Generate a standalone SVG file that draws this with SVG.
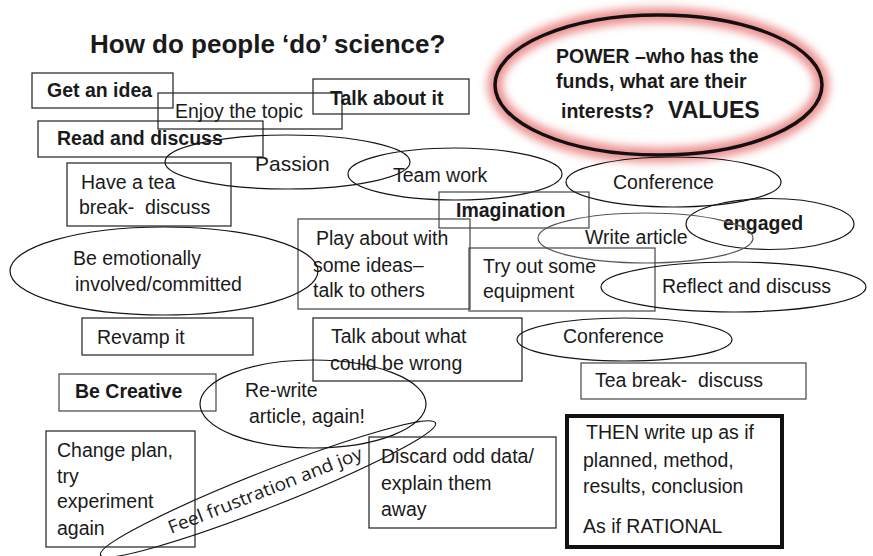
<svg xmlns="http://www.w3.org/2000/svg" width="873" height="556" viewBox="0 0 873 556">
  <style>
    .bg { fill: #ffffff; }
    .box { fill: none; stroke: #1e1e1e; stroke-width: 1.2; }
    .box-grey { fill: none; stroke: #444444; stroke-width: 1.2; }
    .oval { fill: none; stroke: #141414; stroke-width: 1.2; }
    .oval-grey { fill: none; stroke: #555555; stroke-width: 1.2; }
    .heavy { fill: none; stroke: #111111; stroke-width: 4; }
    text { font-family: "Liberation Sans", Arial, sans-serif; fill: #1a1a1a; }
    .t { font-size: 19.5px; }
    .b { font-size: 19.5px; font-weight: bold; }
    .title { font-size: 26px; font-weight: bold; }
    .hand { font-family: "Open Sans", "Noto Sans", sans-serif; font-size: 18px; }
  </style>
  <defs>
    <filter id="glow" x="-20%" y="-40%" width="140%" height="180%">
      <feGaussianBlur stdDeviation="4"/>
    </filter>
  </defs>

  <rect class="bg" x="0" y="0" width="873" height="556"/>

  <text class="title" x="90" y="53">How do people ‘do’ science?</text>

  <!-- highlighted oval, top right -->
  <g id="power">
    <ellipse cx="658.5" cy="85" rx="163.5" ry="70" fill="none" stroke="#ec8f8f" stroke-width="15" filter="url(#glow)"/>
    <ellipse cx="658.5" cy="85" rx="163.5" ry="70" fill="none" stroke="#111111" stroke-width="3.5"/>
    <text class="b" x="556" y="63">POWER –who has the</text>
    <text class="b" x="556" y="88">funds, what are their</text>
    <text class="b" x="561" y="118">interests?</text>
    <text x="668" y="118" font-size="23" font-weight="bold">VALUES</text>
  </g>

  <g id="get-idea">
    <rect class="box" x="32" y="73" width="141" height="35"/>
    <text class="b" x="47" y="97">Get an idea</text>
  </g>

  <g id="enjoy-topic">
    <rect class="box" x="158" y="93" width="184" height="36"/>
    <text class="t" x="175" y="118">Enjoy the topic</text>
  </g>

  <g id="talk-about-it">
    <rect class="box" x="313" y="79" width="156" height="35"/>
    <text class="b" x="330" y="105">Talk about it</text>
  </g>

  <g id="read-discuss">
    <rect class="box" x="38" y="121" width="225" height="36"/>
    <text class="b" x="57" y="145">Read and discuss</text>
  </g>

  <g id="passion">
    <ellipse class="oval" cx="287.5" cy="162" rx="122.5" ry="27"/>
    <text x="255" y="171" font-size="21">Passion</text>
  </g>

  <g id="tea-break-1">
    <rect class="box" x="67" y="163" width="164" height="63"/>
    <text class="t" x="81" y="189">Have a tea</text>
    <text class="t" x="79" y="214">break-&#160; discuss</text>
  </g>

  <g id="team-work">
    <ellipse class="oval" cx="455" cy="174" rx="107" ry="26"/>
    <text class="t" x="393" y="182">Team work</text>
  </g>

  <g id="imagination">
    <rect class="box-grey" x="439" y="192" width="150" height="36"/>
    <text class="b" x="456" y="217">Imagination</text>
  </g>

  <g id="conference-1">
    <ellipse class="oval" cx="673.5" cy="182" rx="107.5" ry="25"/>
    <text class="t" x="613" y="189">Conference</text>
  </g>

  <g id="engaged">
    <ellipse class="oval" cx="770" cy="224" rx="84" ry="25.5"/>
    <text class="b" x="723" y="230">engaged</text>
  </g>

  <g id="write-article">
    <ellipse class="oval-grey" cx="645.5" cy="238" rx="107.5" ry="25"/>
    <text class="t" x="585" y="244">Write article</text>
  </g>

  <g id="play-about">
    <rect class="box-grey" x="298" y="219" width="172" height="90"/>
    <text class="t" x="316" y="245">Play about with</text>
    <text class="t" x="313" y="272">some ideas–</text>
    <text class="t" x="313" y="297">talk to others</text>
  </g>

  <g id="try-equipment">
    <rect class="box-grey" x="469" y="248" width="186" height="63"/>
    <text class="t" x="483" y="273">Try out some</text>
    <text class="t" x="483" y="298">equipment</text>
  </g>

  <g id="reflect-discuss">
    <ellipse class="oval" cx="733.5" cy="287" rx="132.5" ry="25"/>
    <text class="t" x="662" y="293">Reflect and discuss</text>
  </g>

  <g id="emotionally-involved">
    <ellipse class="oval" cx="164" cy="271" rx="154" ry="44"/>
    <text class="t" x="73" y="265">Be emotionally</text>
    <text class="t" x="75" y="291">involved/committed</text>
  </g>

  <g id="revamp">
    <rect class="box" x="82" y="318" width="171" height="37"/>
    <text class="t" x="97" y="344">Revamp it</text>
  </g>

  <g id="what-could-be-wrong">
    <rect class="box" x="313" y="318" width="209" height="63"/>
    <text class="t" x="331" y="343">Talk about what</text>
    <text class="t" x="330" y="370">could be wrong</text>
  </g>

  <g id="conference-2">
    <ellipse class="oval" cx="624.5" cy="339.5" rx="107.5" ry="21.5"/>
    <text class="t" x="563" y="343">Conference</text>
  </g>

  <g id="tea-break-2">
    <rect class="box-grey" x="581" y="363" width="225" height="36"/>
    <text class="t" x="595" y="387">Tea break-&#160; discuss</text>
  </g>

  <g id="be-creative">
    <rect class="box-grey" x="59" y="374" width="157" height="37"/>
    <text class="b" x="75" y="398">Be Creative</text>
  </g>

  <g id="rewrite">
    <ellipse class="oval" cx="313" cy="404" rx="113" ry="44"/>
    <text class="t" x="245" y="397">Re-write</text>
    <text class="t" x="249" y="423">article, again!</text>
  </g>

  <g id="change-plan">
    <rect class="box" x="46" y="431" width="149" height="116"/>
    <text class="t" x="57" y="457">Change plan,</text>
    <text class="t" x="57" y="483">try</text>
    <text class="t" x="57" y="508">experiment</text>
    <text class="t" x="57" y="535">again</text>
  </g>

  <g id="frustration-joy">
    <ellipse class="oval" cx="268" cy="489" rx="180" ry="18" transform="rotate(-21.5 268 489)"/>
    <text class="hand" transform="translate(171 534) rotate(-21.5)" textLength="207" lengthAdjust="spacingAndGlyphs">Feel frustration and joy</text>
  </g>

  <g id="discard-data">
    <rect class="box" x="369" y="437" width="187" height="91"/>
    <text class="t" x="381" y="463">Discard odd data/</text>
    <text class="t" x="381" y="490">explain them</text>
    <text class="t" x="381" y="516">away</text>
  </g>

  <g id="write-up">
    <rect class="heavy" x="567" y="416" width="215" height="131"/>
    <text class="t" x="586" y="439">THEN write up as if</text>
    <text class="t" x="583" y="467">planned, method,</text>
    <text class="t" x="583" y="493">results, conclusion</text>
    <text class="t" x="583" y="533">As if RATIONAL</text>
  </g>

  <g id="connectors"/>
</svg>
